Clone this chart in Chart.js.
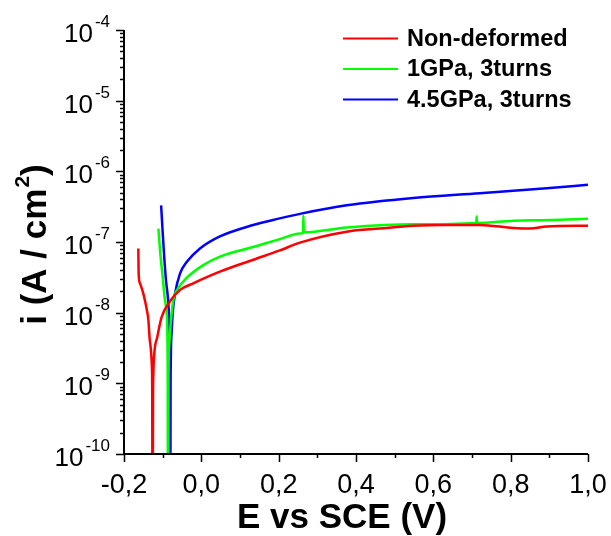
<!DOCTYPE html>
<html>
<head>
<meta charset="utf-8">
<script src="https://cdn.jsdelivr.net/npm/chart.js@4.4.0/dist/chart.umd.min.js"></script>
<style>
  html, body { margin: 0; padding: 0; background: #fff; }
</style>
</head>
<body>
<canvas id="chart" width="611" height="536"></canvas>
<script>
// データ（E vs SCE (V), i (A/cm2)）
const seriesNames = ['Non-deformed', '1GPa, 3turns', '4.5GPa, 3turns'];
const seriesColors = ['#ff0000', '#00ff00', '#0000ff'];

const redE = [-0.163, -0.162, -0.1586, -0.150, -0.141, -0.137, -0.134, -0.130, -0.128, -0.127, -0.1265,
  -0.1255, -0.125, -0.124, -0.1215, -0.114, -0.1025, -0.081, -0.055, -0.021, 0.048, 0.134,
  0.203, 0.255, 0.376, 0.462, 0.548, 0.630, 0.720, 0.807, 0.850, 0.893, 1.0];
const redI = [8.1e-8, 3.5e-8, 2.6e-8, 1.86e-8, 1.1e-8, 7.9e-9, 4.5e-9, 2.8e-9, 1.8e-9, 7.9e-10, 3e-11,
  3e-11, 5e-10, 1.4e-9, 2.7e-9, 4.5e-9, 8.7e-9, 1.45e-8, 2.1e-8, 2.6e-8, 3.8e-8, 5.6e-8,
  7.6e-8, 9.8e-8, 1.4e-7, 1.55e-7, 1.7e-7, 1.74e-7, 1.74e-7, 1.58e-7, 1.55e-7, 1.66e-7, 1.7e-7];

const greenE = [-0.111, -0.107, -0.100, -0.094, -0.0896, -0.087, -0.0865,
  -0.0855, -0.085, -0.083, -0.080, -0.0725, -0.060, -0.038, 0.005, 0.048, 0.134, 0.203,
  0.255, 0.263, 0.264, 0.265, 0.376, 0.548, 0.711, 0.712, 0.713, 0.807, 0.900, 1.0];
const greenI = [1.55e-7, 7.8e-8, 3.2e-8, 1.5e-8, 1e-8, 1.6e-9, 3e-11,
  3e-11, 1e-9, 3.5e-9, 6.3e-9, 1.5e-8, 2.2e-8, 3.1e-8, 4.7e-8, 6.2e-8, 8.5e-8, 1.1e-7,
  1.32e-7, 1.36e-7, 2.35e-7, 1.37e-7, 1.6e-7, 1.78e-7, 1.86e-7, 2.3e-7, 1.86e-7, 2.0e-7, 2.04e-7, 2.14e-7];

const blueE = [-0.104, -0.100, -0.091, -0.084, -0.0815, -0.081,
  -0.080, -0.0795, -0.077, -0.074, -0.068, -0.055, -0.038, -0.0035, 0.048, 0.134, 0.200,
  0.255, 0.376, 0.548, 0.720, 0.893, 1.0];
const blueI = [3.3e-7, 1.38e-7, 2.7e-8, 1e-8, 1e-9, 3e-11,
  3e-11, 1e-9, 5e-9, 1e-8, 1.86e-8, 3.6e-8, 5.2e-8, 8.1e-8, 1.2e-7, 1.74e-7, 2.14e-7,
  2.5e-7, 3.3e-7, 4.2e-7, 4.9e-7, 5.75e-7, 6.45e-7];

// 軸目盛
const xTicks = [-0.2, 0.0, 0.2, 0.4, 0.6, 0.8, 1.0];
const xTickLabels = ['-0,2', '0,0', '0,2', '0,4', '0,6', '0,8', '1,0'];
const xMinorTicks = [-0.1, 0.1, 0.3, 0.5, 0.7, 0.9];
const yTickExps = [-10, -9, -8, -7, -6, -5, -4];

const FONT = "'Liberation Sans', Arial, sans-serif";

function toPoints(es, is) {
  return es.map((e, k) => ({ x: e, y: is[k] }));
}

// 軸・目盛・凡例の描画
const axesPlugin = {
  id: 'axesPlugin',
  afterDraw(chart) {
    const { ctx, chartArea: ca, scales } = chart;
    const xs = scales.x, ys = scales.y;
    ctx.save();
    ctx.strokeStyle = '#000';
    ctx.fillStyle = '#000';
    ctx.lineWidth = 2;

    // 軸線
    ctx.beginPath();
    ctx.moveTo(ca.left, ca.top);
    ctx.lineTo(ca.left, ca.bottom);
    ctx.lineTo(ca.right, ca.bottom);
    ctx.stroke();

    // X 目盛
    ctx.lineWidth = 1.5;
    ctx.beginPath();
    xTicks.forEach(v => {
      const px = Math.round(xs.getPixelForValue(v)) + 0.5;
      ctx.moveTo(px, ca.bottom); ctx.lineTo(px, ca.bottom + 8);
    });
    xMinorTicks.forEach(v => {
      const px = Math.round(xs.getPixelForValue(v)) + 0.5;
      ctx.moveTo(px, ca.bottom); ctx.lineTo(px, ca.bottom + 4);
    });
    // Y 目盛
    yTickExps.forEach((p, k) => {
      const py = Math.round(ys.getPixelForValue(Math.pow(10, p))) + 0.5;
      ctx.moveTo(ca.left, py); ctx.lineTo(ca.left - 8, py);
      if (k < yTickExps.length - 1) {
        for (let m = 2; m <= 9; m++) {
          const my = Math.round(ys.getPixelForValue(m * Math.pow(10, p))) + 0.5;
          ctx.moveTo(ca.left, my); ctx.lineTo(ca.left - 4, my);
        }
      }
    });
    ctx.stroke();

    // X 目盛ラベル
    ctx.font = '27px ' + FONT;
    ctx.textAlign = 'center';
    ctx.textBaseline = 'alphabetic';
    xTicks.forEach((v, k) => {
      ctx.fillText(xTickLabels[k], xs.getPixelForValue(v), ca.bottom + 39);
    });

    // Y 目盛ラベル（10^n）
    yTickExps.forEach(p => {
      const py = ys.getPixelForValue(Math.pow(10, p));
      const supRight = ca.left - 14;
      ctx.textAlign = 'right';
      ctx.font = '17px ' + FONT;
      const sup = String(p);
      const supW = ctx.measureText(sup).width;
      ctx.fillText(sup, supRight, py - 3);
      ctx.font = '26px ' + FONT;
      ctx.fillText('10', supRight - supW - 2, py + 12);
    });

    // X 軸タイトル
    ctx.font = 'bold 35px ' + FONT;
    ctx.textAlign = 'center';
    ctx.fillText('E vs SCE (V)', 342, 528);

    // Y 軸タイトル（上付き 2）
    ctx.save();
    ctx.translate(46, 245);
    ctx.rotate(-Math.PI / 2);
    ctx.textAlign = 'left';
    const main = 'i (A / cm';
    ctx.font = 'bold 35px ' + FONT;
    const w1 = ctx.measureText(main).width;
    const w3 = ctx.measureText(')').width;
    ctx.font = 'bold 21px ' + FONT;
    const w2 = ctx.measureText('2').width;
    const x0 = -(w1 + w2 + w3) / 2;
    ctx.font = 'bold 35px ' + FONT;
    ctx.fillText(main, x0, 0);
    ctx.fillText(')', x0 + w1 + w2 + 1, 0);
    ctx.font = 'bold 21px ' + FONT;
    ctx.fillText('2', x0 + w1 + 1, -17);
    ctx.restore();

    // 凡例
    ctx.font = 'bold 23.5px ' + FONT;
    ctx.textAlign = 'left';
    ctx.textBaseline = 'middle';
    chart.data.datasets.forEach((ds, k) => {
      const ly = 38.5 + k * 30.5;
      ctx.strokeStyle = ds.borderColor;
      ctx.lineWidth = 2;
      ctx.beginPath();
      ctx.moveTo(343, ly); ctx.lineTo(398, ly);
      ctx.stroke();
      ctx.fillStyle = '#000';
      ctx.fillText(ds.label, 407, ly + 1);
    });
    ctx.restore();
  }
};

const ctx = document.getElementById('chart').getContext('2d');
const chart = new Chart(ctx, {
  type: 'scatter',
  data: {
    datasets: [
      { label: seriesNames[0], data: toPoints(redE, redI), borderColor: seriesColors[0] },
      { label: seriesNames[1], data: toPoints(greenE, greenI), borderColor: seriesColors[1] },
      { label: seriesNames[2], data: toPoints(blueE, blueI), borderColor: seriesColors[2] },
    ].map(ds => Object.assign(ds, {
      showLine: true,
      borderWidth: 2.5,
      pointRadius: 0,
      cubicInterpolationMode: 'monotone',
      fill: false,
      clip: 0,
    })),
  },
  options: {
    responsive: false,
    animation: false,
    layout: { padding: { left: 124, right: 23, top: 30, bottom: 82 } },
    scales: {
      x: { type: 'linear', min: -0.2, max: 1.0, display: false },
      y: { type: 'logarithmic', min: 1e-10, max: 1e-4, display: false },
    },
    plugins: {
      legend: { display: false },
      tooltip: { enabled: false },
    },
  },
  plugins: [axesPlugin],
});
</script>
</body>
</html>
